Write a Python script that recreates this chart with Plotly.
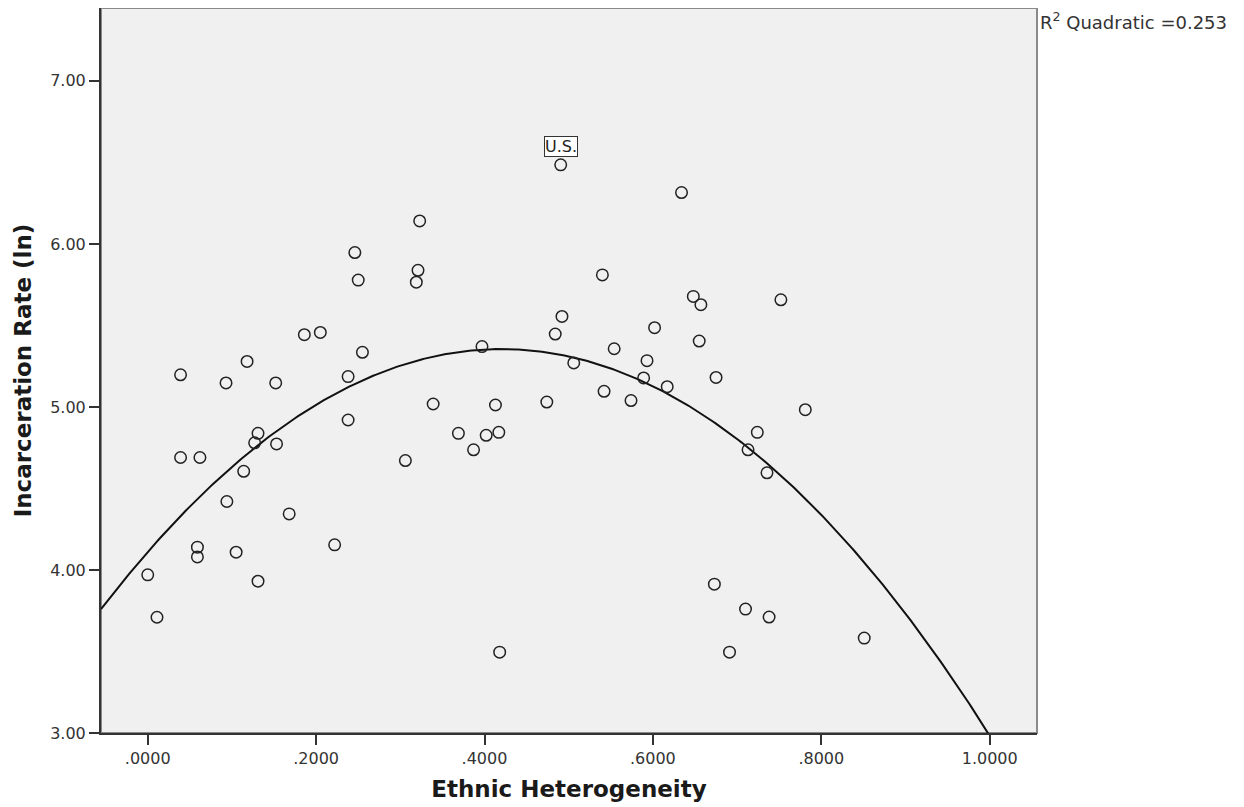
import numpy as np
import plotly.graph_objects as go

# ---- data ----
ethnic_het = [0.000, 0.011, 0.039, 0.039, 0.062, 0.059, 0.059, 0.093, 0.118, 0.152,
              0.186, 0.205, 0.255, 0.238, 0.238, 0.131, 0.127, 0.153, 0.114, 0.094,
              0.168, 0.105, 0.131, 0.222, 0.306, 0.246, 0.250, 0.323, 0.321, 0.319,
              0.4905, 0.634, 0.540, 0.648, 0.657, 0.752, 0.492, 0.484, 0.602, 0.397,
              0.554, 0.655, 0.506, 0.593, 0.589, 0.617, 0.675, 0.339, 0.413, 0.474,
              0.542, 0.574, 0.781, 0.369, 0.402, 0.417, 0.387, 0.724, 0.713, 0.7355,
              0.418, 0.673, 0.710, 0.738, 0.691, 0.851]
incarc_ln = [3.97, 3.71, 5.197, 4.69, 4.69, 4.14, 4.08, 5.147, 5.279, 5.147,
             5.443, 5.457, 5.335, 5.186, 4.92, 4.838, 4.78, 4.773, 4.605, 4.42,
             4.344, 4.109, 3.931, 4.154, 4.671, 5.947, 5.778, 6.141, 5.838, 5.765,
             6.485, 6.315, 5.81, 5.678, 5.627, 5.657, 5.555, 5.447, 5.486, 5.37,
             5.357, 5.404, 5.27, 5.284, 5.178, 5.124, 5.181, 5.018, 5.012, 5.03,
             5.096, 5.039, 4.983, 4.838, 4.826, 4.844, 4.737, 4.844, 4.737, 4.596,
             3.496, 3.913, 3.76, 3.711, 3.496, 3.582]
labelled_point = 30          # index of the U.S.
point_label = "U.S."
r2_text = "R<sup>2</sup> Quadratic =0.253"

x_tickvals = [0.0, 0.2, 0.4, 0.6, 0.8, 1.0]
x_ticktext = [".0000", ".2000", ".4000", ".6000", ".8000", "1.0000"]
y_tickvals = [3, 4, 5, 6, 7]
y_ticktext = ["3.00", "4.00", "5.00", "6.00", "7.00"]

x_range = [-0.0555, 1.0562]
y_range = [3.0, 7.447]

# quadratic fit of the points
coef = np.polyfit(ethnic_het, incarc_ln, 2)
xf = np.linspace(x_range[0], x_range[1], 400)
yf = np.polyval(coef, xf)

FONT = "DejaVu Sans"

fig = go.Figure()
fig.add_trace(go.Scatter(x=xf, y=yf, mode="lines",
                         line=dict(color="#111111", width=2), hoverinfo="skip"))
fig.add_trace(go.Scatter(x=ethnic_het, y=incarc_ln, mode="markers",
                         marker=dict(symbol="circle", size=11.5, color="rgba(0,0,0,0)",
                                     line=dict(color="#222222", width=1.5))))

fig.add_annotation(x=ethnic_het[labelled_point], y=incarc_ln[labelled_point],
                   xref="x", yref="y", text=point_label, showarrow=False,
                   yshift=18, bgcolor="white", bordercolor="#333333", borderwidth=1,
                   borderpad=0, font=dict(family=FONT, size=16, color="#222"))
fig.add_annotation(x=1.0, y=1.0, xref="paper", yref="paper", xanchor="left",
                   yanchor="top", xshift=1, yshift=1, text=r2_text, showarrow=False,
                   font=dict(family=FONT, size=18, color="#333"))

fig.add_shape(type="rect", xref="paper", yref="paper", x0=0, y0=0, x1=1, y1=1,
              line=dict(color="#8a8a8a", width=2), layer="below")

fig.update_layout(
    width=1236, height=799,
    margin=dict(l=93, r=207, t=0, b=74),
    paper_bgcolor="white", plot_bgcolor="#f0f0f0",
    showlegend=False,
    font=dict(family=FONT, color="#333"),
)
fig.update_xaxes(range=x_range, tickvals=x_tickvals, ticktext=x_ticktext,
                 showgrid=False, zeroline=False, showline=True, linecolor="#333",
                 linewidth=2, ticks="outside", ticklen=10, tickwidth=2, tickcolor="#333",
                 tickfont=dict(family=FONT, size=16, color="#333"),
                 title=dict(text="<b>Ethnic Heterogeneity</b>", standoff=14,
                            font=dict(family=FONT, size=23, color="#1a1a1a")))
fig.update_yaxes(range=y_range, tickvals=y_tickvals, ticktext=y_ticktext,
                 showgrid=False, zeroline=False, showline=True, linecolor="#333",
                 linewidth=2, ticks="outside", ticklen=10, tickwidth=2, tickcolor="#333",
                 tickfont=dict(family=FONT, size=16, color="#333"),
                 title=dict(text="<b>Incarceration Rate (ln)</b>", standoff=12,
                            font=dict(family=FONT, size=23, color="#1a1a1a")))

fig.write_html("out.html")
